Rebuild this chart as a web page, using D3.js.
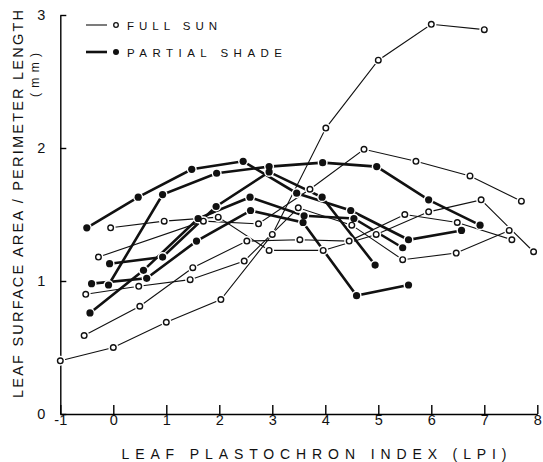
<!DOCTYPE html>
<html>
<head>
<meta charset="utf-8">
<script src="https://cdn.jsdelivr.net/npm/d3@7"></script>
<style>
  body { margin: 0; background: #fff; }
  text { font-family: "Liberation Sans", Arial, sans-serif; fill: #111; }
</style>
</head>
<body>
<div id="chart"></div>
<script>
// full sun plants: [LPI, area/perimeter]
const sunA = [[-1, 0.40], [0, 0.50], [1.0, 0.69], [2.03, 0.86], [3.0, 1.35], [4.01, 2.15], [5.0, 2.66], [6.0, 2.93], [7.0, 2.89]];
const sunB = [[-0.55, 0.59], [0.5, 0.81], [1.5, 1.10], [2.52, 1.30], [3.52, 1.31], [4.45, 1.30], [5.5, 1.50], [6.49, 1.44], [7.52, 1.31]];
const sunC = [[-0.52, 0.90], [0.48, 0.96], [1.45, 1.01], [2.47, 1.15], [3.49, 1.55], [4.5, 1.42], [5.46, 1.16], [6.47, 1.21], [7.47, 1.38]];
const sunD = [[-0.28, 1.18], [1.70, 1.45], [2.74, 1.43], [3.71, 1.69], [4.73, 1.99], [5.71, 1.90], [6.73, 1.79], [7.7, 1.60]];
const sunE = [[-0.05, 1.40], [0.96, 1.45], [1.98, 1.48], [2.94, 1.23], [3.96, 1.23], [4.96, 1.35], [5.95, 1.52], [6.94, 1.61], [7.93, 1.22]];

// partial shade plants
const shadeA = [[-0.5, 1.40], [0.47, 1.63], [1.48, 1.84], [2.45, 1.90], [3.46, 1.66], [4.48, 1.53], [5.57, 1.31], [6.57, 1.38]];
const shadeB = [[-0.09, 0.97], [0.93, 1.65], [1.95, 1.81], [2.94, 1.86], [3.95, 1.89], [4.97, 1.86], [5.95, 1.61], [6.92, 1.42]];
const shadeC = [[-0.07, 1.13], [0.93, 1.18], [1.94, 1.56], [2.94, 1.82], [3.94, 1.63], [4.94, 1.12]];
const shadeD = [[-0.41, 0.98], [0.63, 1.02], [1.57, 1.30], [2.59, 1.53], [3.58, 1.44], [4.59, 0.89], [5.57, 0.97]];
const shadeE = [[-0.44, 0.76], [0.57, 1.08], [1.6, 1.47], [2.58, 1.63], [3.6, 1.49], [4.54, 1.47], [5.46, 1.25]];

const sunSeries = [sunA, sunB, sunC, sunD, sunE];
const shadeSeries = [shadeA, shadeB, shadeC, shadeD, shadeE];

const xTicks = [-1, 0, 1, 2, 3, 4, 5, 6, 7, 8];
const yTicks = [0, 1, 2, 3];

const width = 543, height = 462;

const svg = d3.select("#chart")
  .append("svg")
  .attr("width", width)
  .attr("height", height);

const x = d3.scaleLinear().domain([-1, 8]).range([60.3, 537.3]);
const y = d3.scaleLinear().domain([0, 3]).range([414, 15]);

// x axis, ticks pointing up
const xAxis = svg.append("g")
  .attr("transform", `translate(0,${y(0)})`)
  .call(d3.axisBottom(x).tickValues(xTicks).tickFormat(d => String(d))
    .tickSizeInner(-9).tickSizeOuter(0).tickPadding(1));
xAxis.select(".domain").attr("stroke-width", 1.4);
xAxis.selectAll(".tick line").attr("stroke-width", 1.4);
xAxis.selectAll(".tick text")
  .attr("font-size", 14.5)
  .attr("font-family", "Liberation Sans, Arial, sans-serif")
  .attr("fill", "#111");

// y axis, ticks pointing right
const yAxis = svg.append("g")
  .attr("transform", `translate(${x(-1)},0)`)
  .call(d3.axisLeft(y).tickValues(yTicks).tickFormat(d => String(d))
    .tickSizeInner(-6).tickSizeOuter(0).tickPadding(15));
yAxis.select(".domain").attr("stroke-width", 1.4);
yAxis.selectAll(".tick line").attr("stroke-width", 1.4);
yAxis.selectAll(".tick text")
  .attr("font-size", 14.5)
  .attr("font-family", "Liberation Sans, Arial, sans-serif")
  .attr("fill", "#111");

// axis titles
svg.append("text")
  .attr("x", 314)
  .attr("y", 459)
  .attr("text-anchor", "middle")
  .attr("font-size", 14)
  .attr("textLength", 385)
  .attr("lengthAdjust", "spacing")
  .text("LEAF PLASTOCHRON INDEX (LPI)");

svg.append("text")
  .attr("transform", "rotate(-90)")
  .attr("x", -204)
  .attr("y", 23)
  .attr("text-anchor", "middle")
  .attr("font-size", 14.5)
  .attr("textLength", 388)
  .attr("lengthAdjust", "spacing")
  .text("LEAF SURFACE AREA / PERIMETER LENGTH");

svg.append("text")
  .attr("transform", "rotate(-90)")
  .attr("x", -75)
  .attr("y", 39)
  .attr("text-anchor", "middle")
  .attr("font-size", 12)
  .attr("textLength", 44)
  .attr("lengthAdjust", "spacing")
  .text("(mm)");

const line = d3.line().x(d => x(d[0])).y(d => y(d[1]));

const plot = svg.append("g");

sunSeries.forEach(s => {
  plot.append("path")
    .datum(s)
    .attr("d", line)
    .attr("fill", "none")
    .attr("stroke", "#111")
    .attr("stroke-width", 1.1);
});

shadeSeries.forEach(s => {
  plot.append("path")
    .datum(s)
    .attr("d", line)
    .attr("fill", "none")
    .attr("stroke", "#111")
    .attr("stroke-width", 2.6);
});

// small white gaps where lines meet the markers
const allSun = sunSeries.flat();
const allShade = shadeSeries.flat();

plot.selectAll(".halo")
  .data(allSun.concat(allShade))
  .enter()
  .append("circle")
  .attr("cx", d => x(d[0]))
  .attr("cy", d => y(d[1]))
  .attr("r", 5)
  .attr("fill", "#fff");

plot.selectAll(".sun")
  .data(allSun)
  .enter()
  .append("circle")
  .attr("cx", d => x(d[0]))
  .attr("cy", d => y(d[1]))
  .attr("r", 2.8)
  .attr("fill", "#fff")
  .attr("stroke", "#111")
  .attr("stroke-width", 1.4);

plot.selectAll(".shade")
  .data(allShade)
  .enter()
  .append("circle")
  .attr("cx", d => x(d[0]))
  .attr("cy", d => y(d[1]))
  .attr("r", 3.6)
  .attr("fill", "#111");

// legend
const legend = svg.append("g");
legend.append("line")
  .attr("x1", 86).attr("x2", 107).attr("y1", 25).attr("y2", 25)
  .attr("stroke", "#111").attr("stroke-width", 1.1);
legend.append("circle")
  .attr("cx", 116).attr("cy", 25).attr("r", 2.3)
  .attr("fill", "#fff").attr("stroke", "#111").attr("stroke-width", 1.3);
legend.append("text")
  .attr("x", 127).attr("y", 30)
  .attr("font-size", 11.5)
  .attr("textLength", 90).attr("lengthAdjust", "spacing")
  .text("FULL SUN");

legend.append("line")
  .attr("x1", 86).attr("x2", 107).attr("y1", 52).attr("y2", 52)
  .attr("stroke", "#111").attr("stroke-width", 2.6);
legend.append("circle")
  .attr("cx", 116).attr("cy", 52).attr("r", 3)
  .attr("fill", "#111");
legend.append("text")
  .attr("x", 127).attr("y", 57)
  .attr("font-size", 11.5)
  .attr("textLength", 155).attr("lengthAdjust", "spacing")
  .text("PARTIAL SHADE");
</script>
</body>
</html>
